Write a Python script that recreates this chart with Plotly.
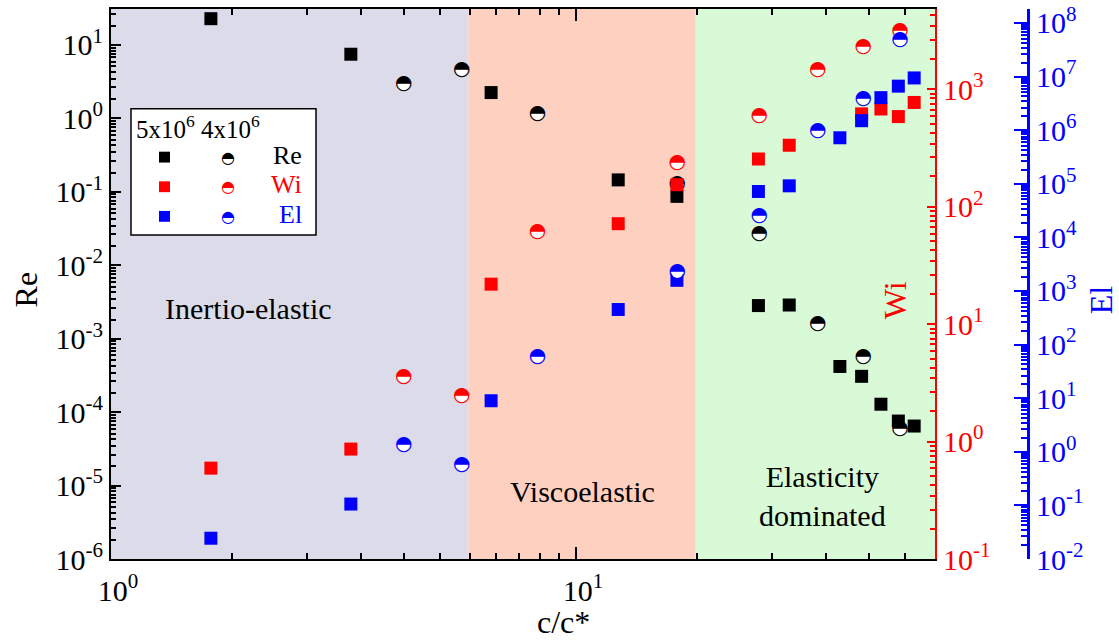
import numpy as np
import plotly.graph_objects as go

# ---------------- data ----------------
# 5x10^6 (squares)
x_sq = [1.64, 3.28, 6.57, 12.33, 16.49, 24.69, 28.76, 36.96, 41.16, 45.29, 49.37, 53.4]
re_sq = [22.7, 7.45, 2.24, 0.145, 0.0865, 2.82e-3, 2.87e-3, 4.18e-4, 3.07e-4, 1.28e-4, 7.55e-5, 6.46e-5]
wi_sq = [0.594, 0.863, 21.9, 71.7, 154, 255, 334, None, 618, 680, 586, 773]
el_sq = [0.0244, 0.106, 8.96, 451, 1580, 7.18e4, 9.15e4, 7.21e5, 1.5e6, 4.04e6, 6.62e6, 9.42e6]

# 4x10^6 (half-filled circles)
x_ci = [4.26, 5.68, 8.27, 16.52, 24.79, 33.11, 41.49, 49.75]
re_ci = [2.89, 4.6, 1.15, 0.128, 0.027, 1.56e-3, 5.69e-4, 5.82e-5]
wi_ci = [3.58, 2.43, 60.4, 234, 597, 1456, 2286, 3162]
el_ci = [1.35, 0.578, 59.6, 2258, 2.49e4, 9.55e5, 3.87e6, 4.8e7]

# regime boundaries (c/c*)
regions = [1.0, 5.87, 18.1, 59.2]
region_colors = ["#DCDBE9", "#FED0C0", "#D9FAD7"]
region_names = ["Inertio-elastic", "Viscoelastic", "Elasticity<br>dominated"]

# axis ranges (log10)
x_range = [0, np.log10(59.2)]
re_range = [-6, 1.488]
wi_range = [-1, 3.684]
el_range = [-2, 8.26]

# ---------------- layout helpers ----------------
W, H = 1119, 644
L, R, T, B = 111, 1028, 2, 559          # plot box in pixels (R = El axis position)
X_END = 935                              # right edge of main plot (Wi axis)
def px(x):
    return (x - L) / (R - L)
def py(y):
    return (B - y) / (B - T)

def minor_vals(lo, hi):
    out = []
    for d in range(lo, hi + 1):
        for k in range(1, 11):
            out.append(10 ** d * (1 + 9 * k / 11))
    return out

def sup_labels(lo, hi):
    return [10.0 ** e for e in range(lo, hi + 1)], ["10<sup>%d</sup>" % e for e in range(lo, hi + 1)]

FONT = "Liberation Serif, Times New Roman, serif"
GLYPH = "DejaVu Sans"
HALF = "\u25D3"

fig = go.Figure()

def sq_trace(x, y, color, axis):
    return go.Scatter(x=x, y=y, mode="markers", yaxis=axis, showlegend=False,
                      marker=dict(symbol="square", size=13, color=color, line=dict(width=0)))

def ci_trace(x, y, color, axis):
    return go.Scatter(x=x, y=y, mode="markers+text", yaxis=axis, showlegend=False,
                      text=[HALF] * len(x), textposition="middle center",
                      textfont=dict(family=GLYPH, size=20, color=color),
                      marker=dict(symbol="circle", size=12, color="white", line=dict(width=0)))

fig.add_trace(ci_trace(x_ci, re_ci, "black", "y"))
fig.add_trace(sq_trace(x_sq, re_sq, "black", "y"))
fig.add_trace(sq_trace(x_sq, wi_sq, "#FF0000", "y2"))
fig.add_trace(ci_trace(x_ci, wi_ci, "#FF0000", "y2"))
fig.add_trace(sq_trace(x_sq, el_sq, "#0000FF", "y3"))
fig.add_trace(ci_trace(x_ci, el_ci, "#0000FF", "y3"))

# shaded regimes
shapes = []
for i in range(3):
    shapes.append(dict(type="rect", xref="x", yref="paper", x0=regions[i], x1=regions[i + 1],
                       y0=0, y1=1, fillcolor=region_colors[i], line=dict(width=0), layer="below"))

annotations = []
def note(x, y, text, size, color="black", xanchor="center", angle=0, family=FONT):
    annotations.append(dict(xref="paper", yref="paper", x=px(x), y=py(y), text=text, showarrow=False,
                            xanchor=xanchor, yanchor="middle", textangle=angle,
                            font=dict(family=family, size=size, color=color)))

# legend box
shapes.append(dict(type="rect", xref="paper", yref="paper", x0=px(131), x1=px(316), y0=py(231), y1=py(103),
                   fillcolor="white", line=dict(color="black", width=1.5), layer="above"))
leg_rows = [("Re", "black", 152), ("Wi", "#FF0000", 182), ("El", "#0000FF", 212)]
for name, col, yy in leg_rows:
    shapes.append(dict(type="rect", xref="paper", yref="paper", x0=px(159), x1=px(170),
                       y0=py(yy + 5.5), y1=py(yy - 5.5), fillcolor=col, line=dict(width=0), layer="above"))
    note(227.5, yy, HALF, 16, col, family=GLYPH)
    note(304, yy - 2, name, 26, col, xanchor="right")
note(134, 121, "5x10<sup>6</sup> 4x10<sup>6</sup>", 25, xanchor="left")

# regime labels
note(248, 305, region_names[0], 30)
note(582, 491, region_names[1], 30)
note(822, 495, region_names[2], 30)

# axis titles
note(563, 623, "c/c*", 32)
note(26, 286, "Re", 32, angle=-90)
note(895, 297, "Wi", 32, "#FF0000", angle=-90)
note(1101, 297, "El", 32, "#0000FF", angle=-90)

xt_v, xt_t = sup_labels(0, 1)
re_v, re_t = sup_labels(-6, 1)
wi_v, wi_t = sup_labels(-1, 3)
el_v, el_t = sup_labels(-2, 8)

def yaxis_style(color, vals, texts, lo, hi, lw=2, major=10, minor=5):
    return dict(type="log", tickmode="array", tickvals=vals, ticktext=texts,
                ticks="inside", ticklen=major, tickwidth=2, tickcolor=color,
                showline=True, linecolor=color, linewidth=lw, showgrid=False, zeroline=False,
                ticklabeloverflow="allow",
                tickfont=dict(family=FONT, size=30, color=color),
                minor=dict(tickmode="array", tickvals=minor_vals(lo, hi), ticks="inside",
                           ticklen=minor, tickwidth=1.5, tickcolor=color, showgrid=False))

fig.update_layout(
    width=W, height=H,
    margin=dict(l=L, r=W - R, t=T, b=H - B),
    paper_bgcolor="white", plot_bgcolor="white",
    showlegend=False,
    xaxis=dict(type="log", range=x_range, domain=[0, (X_END - L) / (R - L)],
               tickmode="array", tickvals=xt_v, ticktext=xt_t,
               ticks="inside", ticklen=12, tickwidth=2, tickcolor="black",
               showline=True, linecolor="black", linewidth=2, mirror="ticks",
               showgrid=False, zeroline=False, ticklabelstandoff=4, ticklabelshift=7,
               ticklabeloverflow="allow",
               tickfont=dict(family=FONT, size=30, color="black"),
               minor=dict(tickmode="array", tickvals=minor_vals(0, 1), ticks="inside",
                          ticklen=6, tickwidth=2, tickcolor="black", showgrid=False)),
    yaxis=dict(range=re_range, side="left", anchor="x", **yaxis_style("black", re_v, re_t, -6, 1)),
    yaxis2=dict(range=wi_range, side="right", anchor="x", overlaying="y",
                **yaxis_style("#FF0000", wi_v, wi_t, -1, 3, major=8, minor=5)),
    yaxis3=dict(range=el_range, side="right", anchor="free", position=1.0, overlaying="y",
                **yaxis_style("#0000FF", el_v, el_t, -2, 8, lw=3, major=13, minor=6)),
    shapes=shapes,
    annotations=annotations,
)

fig.write_html("out.html")
